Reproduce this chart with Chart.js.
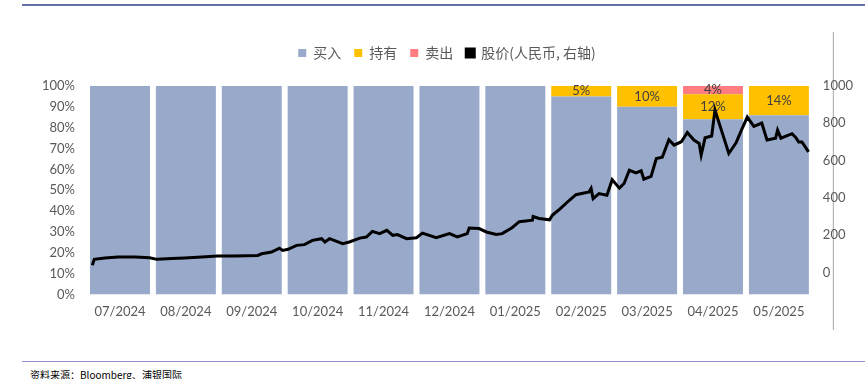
<!DOCTYPE html>
<html>
<head>
  <meta charset="utf-8">
  <title>评级分布与股价</title>
  <script src="https://cdn.jsdelivr.net/npm/chart.js@4.4.0/dist/chart.umd.min.js"></script>
  <style>
    body {
      margin: 0;
      width: 865px;
      height: 379px;
      background: #fff;
      position: relative;
      overflow: hidden;
    }
    .rule-top {
      position: absolute;
      left: 22px;
      top: 4px;
      width: 843px;
      height: 2px;
      background: #6373aa;
    }
    .rule-bottom {
      position: absolute;
      left: 22px;
      top: 361px;
      width: 843px;
      height: 1px;
      background: #8f8fc8;
    }
    .source {
      position: absolute;
      left: 30px;
      top: 367px;
      font: 10px "Noto Sans CJK SC", sans-serif;
      color: #000;
    }
    #chart {
      position: absolute;
      left: 0;
      top: 0;
    }
  </style>
</head>
<body>
  <div class="rule-top"></div>
  <canvas id="chart" width="865" height="340"></canvas>
  <div class="rule-bottom"></div>
  <div class="source">资料来源：Bloomberg、浦银国际</div>

  <script>
    // 月份和评级占比 (%)
    const months = ['07/2024', '08/2024', '09/2024', '10/2024', '11/2024', '12/2024',
                    '01/2025', '02/2025', '03/2025', '04/2025', '05/2025'];
    const buyPct  = [100, 100, 100, 100, 100, 100, 100, 95, 90, 84, 86];
    const holdPct = [0, 0, 0, 0, 0, 0, 0, 5, 10, 12, 14];
    const sellPct = [0, 0, 0, 0, 0, 0, 0, 0, 0, 4, 0];

    // 股价: 位置按月计 (0 = 7月初, 11 = 5月底), 值为人民币
    const priceAt = [0.08, 0.11, 0.27, 0.47, 0.73, 0.95, 1.06, 1.29, 1.48, 1.74, 1.98,
                     2.24, 2.59, 2.65, 2.80, 2.92, 2.97, 3.05, 3.18, 3.30, 3.42, 3.56,
                     3.61, 3.68, 3.88, 3.98, 4.14, 4.24, 4.33, 4.44, 4.55, 4.64, 4.71,
                     4.85, 5.00, 5.09, 5.30, 5.50, 5.62, 5.77, 5.80, 5.95, 6.06, 6.21,
                     6.30, 6.45, 6.56, 6.76, 6.77, 6.86, 7.02, 7.06, 7.17, 7.32, 7.42,
                     7.62, 7.65, 7.68, 7.77, 7.89, 7.97, 8.08, 8.15, 8.23, 8.33, 8.41,
                     8.45, 8.56, 8.64, 8.73, 8.83, 8.91, 9.02, 9.11, 9.21, 9.29, 9.32,
                     9.38, 9.48, 9.53, 9.59, 9.74, 9.85, 9.92, 10.02, 10.12, 10.24, 10.32,
                     10.45, 10.48, 10.53, 10.70, 10.76, 10.80, 10.85, 10.95];
    const price   = [38, 70, 77, 82, 82, 79, 70, 74, 77, 82, 88,
                     88, 91, 100, 109, 130, 118, 124, 145, 149, 172, 181,
                     163, 181, 154, 163, 184, 190, 220, 208, 226, 199, 203,
                     181, 186, 211, 186, 208, 190, 208, 238, 235, 217, 204,
                     208, 240, 272, 280, 300, 289, 282, 306, 338, 387, 417,
                     432, 450, 396, 423, 414, 497, 452, 477, 548, 534, 545,
                     500, 515, 611, 618, 712, 683, 701, 751, 710, 692, 629,
                     722, 732, 871, 804, 638, 695, 754, 833, 783, 801, 710,
                     720, 763, 720, 744, 722, 700, 700, 647];

    // 右轴刻度
    const rightTicks = [0, 200, 400, 600, 800, 1000];

    const textColor = '#595959';
    const tickFont = { family: 'Lato, "Liberation Sans", sans-serif', size: 13 };
    const barWidth = { categoryPercentage: 1, barPercentage: 0.91, borderWidth: 0, grouped: false };
    const noGrid = { display: false, drawTicks: false };

    // 图例和图表之间留出空隙
    const legendGap = {
      id: 'legendGap',
      beforeInit(chart) {
        const fit = chart.legend.fit;
        chart.legend.fit = function () {
          fit.call(this);
          this.height += 16;
        };
      }
    };

    // 持有 / 卖出 的百分比标签
    const barLabels = {
      id: 'barLabels',
      afterDatasetDraw(chart, args) {
        if (args.index !== 1 && args.index !== 2) return;
        const ctx = chart.ctx;
        const values = chart.data.datasets[args.index].data;
        ctx.save();
        ctx.font = '13px Lato, "Liberation Sans", sans-serif';
        ctx.fillStyle = '#404040';
        ctx.textAlign = 'center';
        ctx.textBaseline = 'middle';
        args.meta.data.forEach((bar, i) => {
          if (!values[i]) return;
          ctx.fillText(values[i] + '%', bar.x, (bar.y + bar.base) / 2);
        });
        ctx.restore();
      }
    };

    // 右侧的竖线
    const rightRule = {
      id: 'rightRule',
      beforeDraw(chart) {
        const ctx = chart.ctx;
        const x = chart.chartArea.right + 21.5;
        ctx.save();
        ctx.strokeStyle = '#a6a6a6';
        ctx.lineWidth = 1;
        ctx.beginPath();
        ctx.moveTo(x, 32);
        ctx.lineTo(x, 330);
        ctx.stroke();
        ctx.restore();
      }
    };

    new Chart(document.getElementById('chart'), {
      data: {
        labels: months,
        datasets: [
          { type: 'bar', label: '买入', data: buyPct, backgroundColor: '#98a9c9',
            yAxisID: 'y', ...barWidth },
          { type: 'bar', label: '持有', data: holdPct, backgroundColor: '#ffc000',
            yAxisID: 'y', ...barWidth },
          { type: 'bar', label: '卖出', data: sellPct, backgroundColor: '#ff7c80',
            yAxisID: 'y', ...barWidth },
          { type: 'line', label: '股价(人民币, 右轴)',
            data: priceAt.map((m, i) => ({ x: m, y: price[i] })),
            borderColor: '#000', backgroundColor: '#000', borderWidth: 3,
            pointRadius: 0, tension: 0, xAxisID: 'x2', yAxisID: 'y1', order: -1 }
        ]
      },
      options: {
        responsive: false,
        animation: false,
        layout: { padding: { left: 30, right: 1, top: 33, bottom: 10 } },
        plugins: {
          tooltip: { enabled: false },
          legend: {
            position: 'top',
            labels: {
              boxWidth: 8,
              boxHeight: 8,
              padding: 13,
              color: textColor,
              font: { family: '"Noto Sans CJK SC", sans-serif', size: 14 },
              sort: (a, b) => a.datasetIndex - b.datasetIndex
            }
          }
        },
        scales: {
          x: {
            stacked: true,
            grid: noGrid,
            border: { display: false },
            ticks: { color: textColor, font: tickFont, padding: 10, maxRotation: 0 }
          },
          x2: {
            type: 'linear',
            min: 0,
            max: 11,
            display: false
          },
          y: {
            stacked: true,
            position: 'left',
            min: 0,
            max: 100,
            grid: noGrid,
            border: { display: false },
            ticks: { stepSize: 10, color: textColor, font: tickFont, padding: 12,
                     callback: v => v + '%' }
          },
          y1: {
            position: 'right',
            min: -118,
            max: 1000,
            grid: noGrid,
            border: { display: false },
            afterBuildTicks: axis => { axis.ticks = rightTicks.map(v => ({ value: v })); },
            ticks: { color: textColor, font: tickFont, padding: 11,
                     callback: v => String(v) }
          }
        }
      },
      plugins: [legendGap, barLabels, rightRule]
    });
  </script>
</body>
</html>
